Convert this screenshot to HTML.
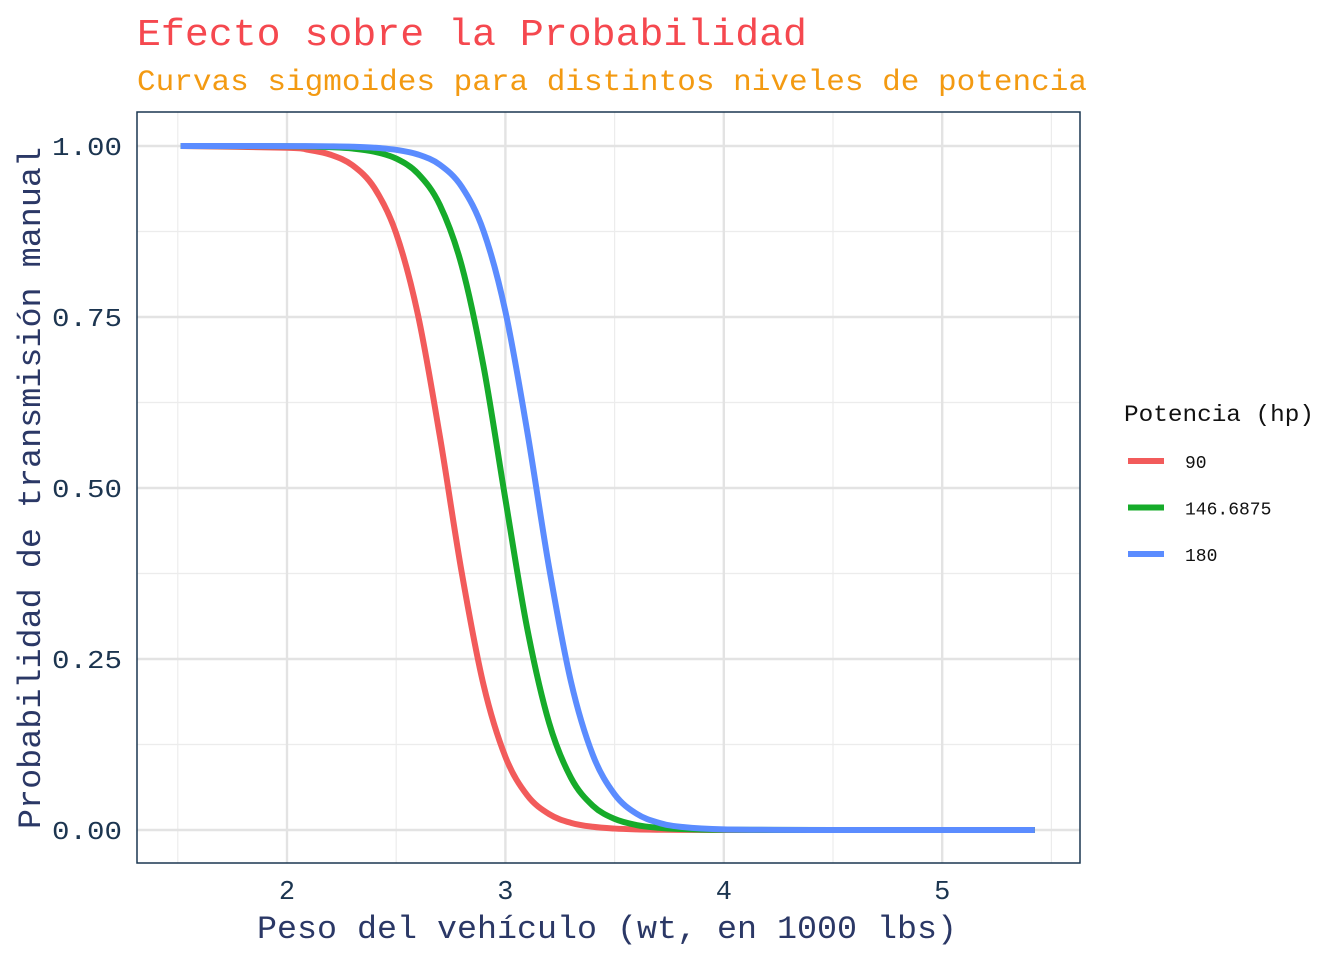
<!DOCTYPE html>
<html><head><meta charset="utf-8"><style>
html,body{margin:0;padding:0;background:#fff;}
svg{display:block;font-family:"Liberation Mono","DejaVu Sans Mono",monospace;}
</style></head><body>
<svg id="chart" width="1344" height="960" viewBox="0 0 1344 960">
<text x="137" y="45" font-size="38" fill="#f5484f" textLength="670" lengthAdjust="spacingAndGlyphs">Efecto sobre la Probabilidad</text>
<text x="137" y="90" font-size="30" fill="#f39a12" textLength="950" lengthAdjust="spacingAndGlyphs">Curvas sigmoides para distintos niveles de potencia</text>
<g id="grid"></g>
<g id="series"></g>
<rect x="137" y="112" width="943" height="751" fill="none" stroke="#1a3650" stroke-width="1.5"/>
<g id="ticks"></g>
<text x="607" y="938" font-size="32" fill="#2b3866" text-anchor="middle" textLength="700" lengthAdjust="spacingAndGlyphs">Peso del vehículo (wt, en 1000 lbs)</text>
<text transform="translate(40,488) rotate(-90)" font-size="32" fill="#2b3866" text-anchor="middle" textLength="682" lengthAdjust="spacingAndGlyphs">Probabilidad de transmisión manual</text>
<g id="legend">
<text x="1124" y="421" font-size="23" fill="#111" textLength="190" lengthAdjust="spacingAndGlyphs">Potencia (hp)</text>
</g>
</svg>
<script>
const wt = [1.513,2.0,2.1,2.2,2.3,2.4,2.5,2.6,2.7,2.8,2.9,3.0,3.1,3.2,3.3,3.4,3.5,3.6,3.7,3.8,4.0,4.5,5.424];
const seriesNames = ["90","146.6875","180"];
const p90  = [1.0,0.9974,0.9943,0.9872,0.9718,0.9387,0.8721,0.7525,0.5754,0.3764,0.2120,0.1070,0.0507,0.0233,0.0105,0.0047,0.0021,0.0009,0.0004,0.0002,0.0,0.0,0.0];
const p147 = [1.0,0.9997,0.9993,0.9983,0.9963,0.9917,0.9816,0.9596,0.9137,0.8251,0.6777,0.4835,0.2944,0.1568,0.0765,0.0356,0.0162,0.0073,0.0033,0.0015,0.0003,0.0,0.0];
const p180 = [1.0,0.9999,0.9998,0.9995,0.9989,0.9975,0.9944,0.9876,0.9726,0.9404,0.8756,0.7581,0.5827,0.3837,0.2171,0.1100,0.0522,0.0239,0.0108,0.0048,0.0010,0.0,0.0];
const xTicks = [2,3,4,5];
const xMinor = [1.5,2.5,3.5,4.5,5.5];
const yTicks = [0,0.25,0.5,0.75,1.0];
const yTickLabels = ["0.00","0.25","0.50","0.75","1.00"];
const yMinor = [0.125,0.375,0.625,0.875];
const colors = ["#f25b5b","#16ab2a","#5b8cff"];

const NS="http://www.w3.org/2000/svg";
const X = v => 287 + (v-2)*218.4;
const Y = v => 830 - v*684;
function mk(tag, attrs, parent){const e=document.createElementNS(NS,tag);for(const k in attrs)e.setAttribute(k,attrs[k]);parent.appendChild(e);return e;}
const grid=document.getElementById('grid'), ticks=document.getElementById('ticks'), ser=document.getElementById('series'), leg=document.getElementById('legend');
xMinor.forEach(v=>{const x=X(v);if(x<137||x>1080)return;const l=mk('line',{x1:x,x2:x,y1:112,y2:863,stroke:'#ececec','stroke-width':1.2},grid);

});
yMinor.forEach(v=>{const l=mk('line',{x1:137,x2:1080,y1:Y(v),y2:Y(v),stroke:'#ececec','stroke-width':1.2},grid);

});
xTicks.forEach(v=>{const l=mk('line',{x1:X(v),x2:X(v),y1:112,y2:863,stroke:'#e3e3e3','stroke-width':2.4},grid);


const t=mk('text',{x:X(v),y:899,'font-size':27,fill:'#1c3550','text-anchor':'middle'},ticks);t.textContent=String(v);

});
yTicks.forEach((v,i)=>{const l=mk('line',{x1:137,x2:1080,y1:Y(v),y2:Y(v),stroke:'#e3e3e3','stroke-width':2.4},grid);


const t=mk('text',{x:122,y:Y(v)+9,'font-size':26,fill:'#1c3550','text-anchor':'end',textLength:70,lengthAdjust:'spacingAndGlyphs'},ticks);t.textContent=yTickLabels[i];

});
function pathFor(vals){
  const pts=wt.map((w,i)=>[X(w),Y(vals[i])]);
  let d='M'+pts[0][0]+','+pts[0][1];
  for(let i=0;i<pts.length-1;i++){
    const p0=pts[Math.max(0,i-1)],p1=pts[i],p2=pts[i+1],p3=pts[Math.min(pts.length-1,i+2)];
    let c1=[p1[0]+(p2[0]-p0[0])/6,p1[1]+(p2[1]-p0[1])/6];
    let c2=[p2[0]-(p3[0]-p1[0])/6,p2[1]-(p3[1]-p1[1])/6];
    const lo=Math.min(p1[1],p2[1]),hi=Math.max(p1[1],p2[1]);
    c1[1]=Math.min(hi,Math.max(lo,c1[1]));c2[1]=Math.min(hi,Math.max(lo,c2[1]));
    d+=' C'+c1[0]+','+c1[1]+' '+c2[0]+','+c2[1]+' '+p2[0]+','+p2[1];
  }
  return d;
}
[p90,p147,p180].forEach((vals,i)=>{
  const p=mk('path',{d:pathFor(vals),fill:'none',stroke:colors[i],'stroke-width':6,'stroke-linejoin':'round'},ser);
  
  
  const ly=461+i*46.5;
  const k=mk('line',{x1:1128,x2:1164,y1:ly,y2:ly,stroke:colors[i],'stroke-width':6},leg);
  
  
  const t=mk('text',{x:1185,y:ly+7,'font-size':18,fill:'#111'},leg);t.textContent=seriesNames[i];
  
  
});
</script>
</body></html>
